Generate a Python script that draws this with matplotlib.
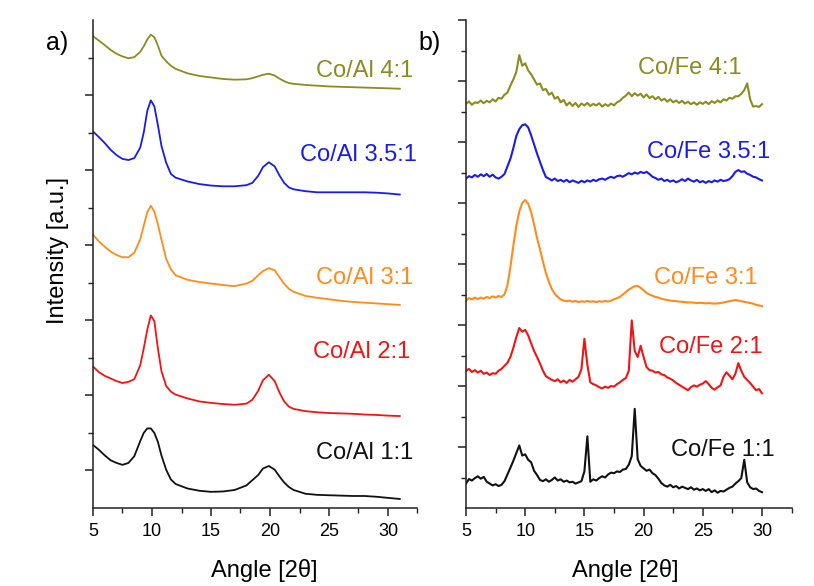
import numpy as np
import matplotlib.pyplot as plt
from matplotlib.ticker import FixedLocator

plt.rcParams['font.family'] = ['Liberation Sans', 'DejaVu Sans']

# ---- panel a: Co/Al samples (stacked intensity, a.u.) ----
angle_al = [5, 5.5, 6, 6.5, 7, 7.5, 8, 8.5, 9, 9.3, 9.6, 9.9, 10.2, 10.5, 10.8,
            11.2, 11.6, 12, 13, 14, 15, 16, 17, 18, 18.5, 19, 19.4, 19.9, 20.4,
            20.8, 21.2, 21.6, 22, 23, 24, 25, 26, 27, 28, 29, 30, 31]

al_4_1 = [12.57, 12.45, 12.33, 12.20, 12.10, 12.03, 11.98, 12.01, 12.15, 12.30,
          12.48, 12.61, 12.54, 12.32, 12.05, 11.90, 11.78, 11.70, 11.58, 11.51,
          11.47, 11.43, 11.41, 11.42, 11.45, 11.50, 11.54, 11.57, 11.52, 11.44,
          11.37, 11.32, 11.30, 11.27, 11.25, 11.23, 11.22, 11.21, 11.20, 11.19,
          11.18, 11.17]
al_35_1 = [10.03, 9.88, 9.72, 9.54, 9.40, 9.30, 9.27, 9.32, 9.60, 10.00,
           10.58, 10.86, 10.70, 10.20, 9.65, 9.20, 8.90, 8.80, 8.70, 8.63,
           8.59, 8.57, 8.57, 8.60, 8.66, 8.85, 9.08, 9.21, 9.10, 8.86,
           8.66, 8.54, 8.49, 8.44, 8.41, 8.41, 8.41, 8.41, 8.41, 8.40,
           8.38, 8.35]
al_3_1 = [7.28, 7.10, 6.96, 6.83, 6.74, 6.68, 6.68, 6.80, 7.15, 7.52,
          7.88, 8.05, 7.90, 7.56, 7.15, 6.64, 6.36, 6.20, 6.08, 6.02,
          5.98, 5.94, 5.91, 5.98, 6.05, 6.20, 6.31, 6.39, 6.33, 6.15,
          5.97, 5.84, 5.76, 5.65, 5.60, 5.56, 5.52, 5.49, 5.47, 5.45,
          5.43, 5.41]
al_2_1 = [3.77, 3.62, 3.52, 3.45, 3.38, 3.33, 3.36, 3.43, 3.80, 4.25,
          4.75, 5.13, 4.98, 4.25, 3.65, 3.25, 3.10, 3.02, 2.92, 2.84,
          2.80, 2.77, 2.75, 2.78, 2.88, 3.12, 3.40, 3.55, 3.38, 3.08,
          2.84, 2.70, 2.64, 2.58, 2.55, 2.53, 2.52, 2.51, 2.49, 2.48,
          2.46, 2.45]
al_1_1 = [1.68, 1.55, 1.40, 1.27, 1.20, 1.15, 1.20, 1.38, 1.78, 2.00,
          2.12, 2.12, 2.00, 1.76, 1.40, 1.02, 0.76, 0.64, 0.52, 0.46,
          0.43, 0.44, 0.48, 0.60, 0.74, 0.88, 1.05, 1.12, 1.02, 0.84,
          0.68, 0.56, 0.48, 0.38, 0.35, 0.34, 0.33, 0.32, 0.32, 0.30,
          0.27, 0.24]

# ---- panel b: Co/Fe samples, measured every 0.25 deg from 5 to 30 ----
angle_fe = np.arange(5, 30.001, 0.25)

fe_4_1 = [13.25, 13.33, 13.22, 13.30, 13.28, 13.36, 13.27, 13.35,
          13.30, 13.40, 13.33, 13.45, 13.42, 13.55, 13.62, 13.85,
          14.05, 14.30, 14.85, 14.50, 14.58, 14.35, 14.22, 14.05,
          13.88, 13.92, 13.70, 13.74, 13.55, 13.62, 13.42, 13.48,
          13.30, 13.38, 13.20, 13.30, 13.18, 13.28, 13.15, 13.26,
          13.20, 13.28, 13.18, 13.25, 13.20, 13.27, 13.16, 13.24,
          13.18, 13.26, 13.20, 13.30, 13.35, 13.45, 13.52, 13.62,
          13.50, 13.60, 13.52, 13.58, 13.46, 13.56, 13.44, 13.50,
          13.40, 13.48, 13.36, 13.42, 13.32, 13.40, 13.30, 13.36,
          13.28, 13.35, 13.26, 13.32, 13.24, 13.30, 13.22, 13.30,
          13.25, 13.32, 13.24, 13.34, 13.28, 13.36, 13.30, 13.40,
          13.36, 13.45, 13.42, 13.50, 13.50, 13.58, 13.70, 13.92,
          13.40, 13.16, 13.18, 13.15, 13.24]
fe_35_1 = [10.80, 10.88, 10.84, 10.92, 10.86, 10.94, 10.88, 10.95,
           10.86, 10.93, 10.84, 10.80, 10.86, 10.95, 11.20, 11.45,
           11.80, 12.20, 12.42, 12.55, 12.58, 12.48, 12.22, 11.92,
           11.62, 11.35, 11.08, 10.85, 10.80, 10.74, 10.80, 10.72,
           10.76, 10.70, 10.76, 10.68, 10.74, 10.70, 10.66, 10.73,
           10.68, 10.74, 10.70, 10.76, 10.72, 10.78, 10.80, 10.76,
           10.82, 10.86, 10.82, 10.88, 10.90, 10.86, 10.92, 10.98,
           10.94, 11.00, 10.96, 11.02, 10.98, 11.02, 10.95, 10.86,
           10.82, 10.76, 10.80, 10.72, 10.76, 10.70, 10.74, 10.68,
           10.72, 10.78, 10.72, 10.80, 10.74, 10.70, 10.76, 10.68,
           10.72, 10.66, 10.72, 10.68, 10.74, 10.70, 10.76, 10.72,
           10.74, 10.78, 10.88, 11.02, 11.08, 11.02, 11.04, 10.96,
           10.92, 10.86, 10.84, 10.78, 10.74]
fe_3_1 = [6.80, 6.88, 6.84, 6.90, 6.85, 6.90, 6.86, 6.92,
          6.88, 6.94, 6.90, 6.95, 6.92, 7.00, 7.30, 7.90,
          8.60, 9.25, 9.72, 10.00, 10.10, 9.98, 9.70, 9.30,
          8.85, 8.48, 8.08, 7.70, 7.42, 7.18, 7.02, 6.92,
          6.84, 6.80, 6.78, 6.80, 6.76, 6.79, 6.75, 6.78,
          6.76, 6.79, 6.76, 6.78, 6.75, 6.78, 6.76, 6.79,
          6.77, 6.80, 6.84, 6.88, 6.92, 7.00, 7.08, 7.16,
          7.22, 7.27, 7.28, 7.22, 7.14, 7.05, 7.00, 6.96,
          6.92, 6.90, 6.86, 6.84, 6.82, 6.80, 6.79, 6.78,
          6.77, 6.76, 6.75, 6.74, 6.74, 6.73, 6.72, 6.73,
          6.72, 6.71, 6.72, 6.71, 6.70, 6.71, 6.72, 6.74,
          6.76, 6.78, 6.80, 6.82, 6.80, 6.78, 6.76, 6.74,
          6.72, 6.70, 6.66, 6.64, 6.62]
fe_2_1 = [4.50, 4.56, 4.46, 4.52, 4.44, 4.50, 4.40, 4.44,
          4.36, 4.42, 4.40, 4.50, 4.56, 4.66, 4.76, 4.95,
          5.25, 5.60, 5.90, 5.78, 5.84, 5.66, 5.40, 5.15,
          4.95, 4.74, 4.50, 4.32, 4.26, 4.20, 4.16, 4.22,
          4.12, 4.18, 4.10, 4.20, 4.14, 4.22, 4.30, 4.55,
          5.55, 4.70, 4.12, 4.06, 4.02, 3.96, 3.92, 3.98,
          3.94, 4.00, 3.98, 4.06, 4.12, 4.20, 4.26, 4.50,
          6.15, 5.15, 4.95, 5.32, 4.95, 4.62, 4.52, 4.50,
          4.44, 4.46, 4.38, 4.36, 4.28, 4.24, 4.18, 4.10,
          4.04, 3.98, 3.92, 3.86, 3.96, 4.02, 3.98, 4.04,
          4.08, 4.16, 4.06, 3.94, 3.88, 3.96, 4.02, 4.30,
          4.45, 4.34, 4.22, 4.40, 4.75, 4.50, 4.30, 4.20,
          4.10, 3.98, 3.86, 3.90, 3.76]
fe_1_1 = [0.80, 0.95, 0.90, 0.98, 1.04, 0.96, 1.02, 0.86,
          0.80, 0.74, 0.78, 0.72, 0.76, 0.88, 1.10, 1.32,
          1.55, 1.80, 2.05, 1.72, 1.76, 1.58, 1.50, 1.22,
          1.08, 0.92, 0.88, 0.94, 0.86, 0.92, 1.00, 0.90,
          0.94, 0.86, 0.90, 0.84, 0.86, 0.80, 0.84, 0.88,
          1.20, 2.35, 0.86, 0.94, 0.90, 0.98, 1.04, 1.00,
          1.10, 1.16, 1.14, 1.20, 1.18, 1.26, 1.28, 1.42,
          1.70, 3.25, 1.60, 1.38, 1.30, 1.22, 1.26, 1.14,
          1.08, 0.96, 0.82, 0.74, 0.70, 0.76, 0.68, 0.72,
          0.64, 0.70, 0.66, 0.62, 0.68, 0.60, 0.64, 0.58,
          0.62, 0.56, 0.62, 0.52, 0.58, 0.50, 0.56, 0.54,
          0.60, 0.66, 0.70, 0.80, 0.88, 0.98, 1.58, 0.84,
          0.68, 0.62, 0.64, 0.56, 0.52]

colors = ['#8c8c1e', '#1a1aee', '#ff8c1a', '#f01414', '#111111']
al_labels = ['Co/Al 4:1', 'Co/Al 3.5:1', 'Co/Al 3:1', 'Co/Al 2:1', 'Co/Al 1:1']
fe_labels = ['Co/Fe 4:1', 'Co/Fe 3.5:1', 'Co/Fe 3:1', 'Co/Fe 2:1', 'Co/Fe 1:1']
# label anchor points (right edge, centre) in data coords
al_label_pos = [(32.1, 11.63), (32.46, 9.41), (32.1, 6.13), (31.86, 4.16), (32.1, 1.47)]
fe_label_pos = [(28.31, 14.43), (30.68, 11.67), (29.66, 7.54), (30.08, 5.28), (31.1, 1.90)]

fig = plt.figure(figsize=(8.14, 5.86), dpi=100)
ax1 = fig.add_axes([93/814, 78/586, 324.5/814, 488/586])
ax2 = fig.add_axes([466/814, 78/586, 325.6/814, 488/586])

for y, c in zip([al_4_1, al_35_1, al_3_1, al_2_1, al_1_1], colors):
    ax1.plot(angle_al, y, color=c, lw=1.3)
for y, c in zip([fe_4_1, fe_35_1, fe_3_1, fe_2_1, fe_1_1], colors):
    ax2.plot(angle_fe, y, color=c, lw=1.5)

for (x, y), t, c in zip(al_label_pos, al_labels, colors):
    ax1.text(x, y, t, color=c, fontsize=17, ha='right', va='center')
for (x, y), t, c in zip(fe_label_pos, fe_labels, colors):
    ax2.text(x, y, t, color=c, fontsize=17, ha='right', va='center')

ax1.set_ylim(0, 13)
ax1.yaxis.set_major_locator(FixedLocator([1, 3, 5, 7, 9, 11]))
ax1.yaxis.set_minor_locator(FixedLocator([2, 4, 6, 8, 10, 12]))
ax2.set_ylim(0, 16)
ax2.yaxis.set_major_locator(FixedLocator(list(range(2, 17, 2))))
ax2.yaxis.set_minor_locator(FixedLocator(list(range(1, 16, 2))))

for ax in (ax1, ax2):
    ax.set_xlim(5, 32.5)
    ax.xaxis.set_major_locator(FixedLocator([5, 10, 15, 20, 25, 30]))
    ax.xaxis.set_minor_locator(FixedLocator([7.5, 12.5, 17.5, 22.5, 27.5, 32.5]))
    ax.set_yticklabels([])
    for s in ('top', 'right'):
        ax.spines[s].set_visible(False)
    for s in ('left', 'bottom'):
        ax.spines[s].set_linewidth(1.1)
        ax.spines[s].set_color('#222222')
    ax.tick_params(which='major', direction='out', length=6, width=1.1,
                   labelsize=13, pad=5, color='#222222')
    ax.tick_params(which='minor', direction='out', length=3.5, width=1.0,
                   color='#222222')
    ax.set_xlabel('Angle [2θ]', fontsize=17)

ax1.xaxis.set_label_coords(0.527, -0.105)
ax2.xaxis.set_label_coords(0.488, -0.105)

fig.text(58/814, 1 - 250/586, 'Intensity [a.u.]', rotation=90,
         fontsize=17, ha='center', va='center')
fig.text(57/814, 1 - 43/586, 'a)', fontsize=18, ha='center', va='center')
fig.text(430/814, 1 - 43/586, 'b)', fontsize=18, ha='center', va='center')

fig.savefig('out.png', dpi=100)
